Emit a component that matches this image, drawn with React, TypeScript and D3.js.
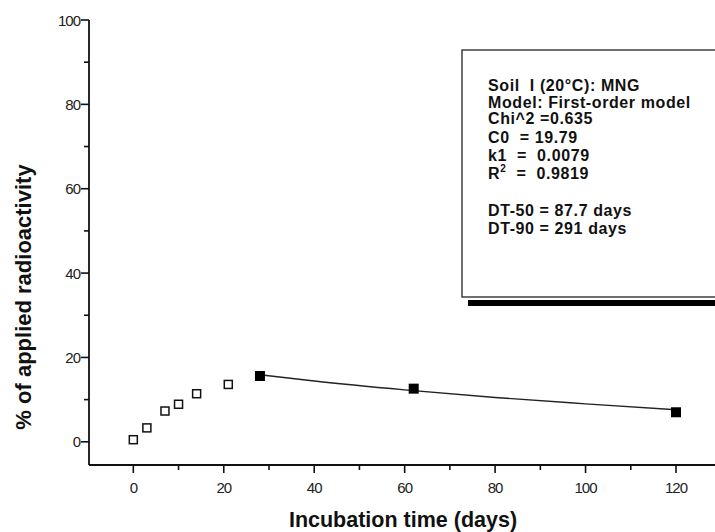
import React, { useEffect, useRef } from 'react';
import * as d3 from 'd3';

// measured points, open = not used in fit, filled = used in fit
const openDays = [0, 3, 7, 10, 14, 21];
const openPct = [0.5, 3.3, 7.3, 8.9, 11.4, 13.6];
const fitDays = [28, 62, 120];
const fitPct = [15.6, 12.6, 7.0];
// model curve
const curveDays = [28, 40, 60, 80, 100, 120];
const curvePct = [15.9, 14.4, 12.3, 10.5, 9.0, 7.6];

const xMajor = [0, 20, 40, 60, 80, 100, 120];
const xMinor = [10, 30, 50, 70, 90, 110, 130];
const yMajor = [0, 20, 40, 60, 80, 100];
const yMinor = [10, 30, 50, 70, 90];

const boxLines = [
  'Soil  I (20°C): MNG',
  'Model: First-order model',
  'Chi^2 =0.635',
  'C0  = 19.79',
  'k1  =  0.0079',
  'R2',
  '',
  'DT-50 = 87.7 days',
  'DT-90 = 291 days',
];

const W = 715;
const H = 532;
const font = '"Liberation Sans", Arial, Helvetica, sans-serif';

export default function App() {
  const ref = useRef<SVGSVGElement>(null);

  useEffect(() => {
    const svg = d3.select(ref.current);
    svg.selectAll('*').remove();

    const x = d3.scaleLinear().domain([-9.8, 120]).range([89, 676]);
    const y = d3.scaleLinear().domain([-5.5, 100]).range([465, 20]);
    const x0 = x(-9.8);
    const y0 = y(-5.5);

    const g = svg.append('g').attr('font-family', font);

    // axes lines
    g.append('line')
      .attr('x1', x0).attr('x2', W)
      .attr('y1', y0).attr('y2', y0)
      .attr('stroke', '#111').attr('stroke-width', 1.8);
    g.append('line')
      .attr('x1', x0).attr('x2', x0)
      .attr('y1', y0).attr('y2', y(100))
      .attr('stroke', '#111').attr('stroke-width', 1.8);

    // x ticks
    g.selectAll('xmaj').data(xMajor).enter().append('line')
      .attr('x1', d => x(d)).attr('x2', d => x(d))
      .attr('y1', y0).attr('y2', y0 + 8)
      .attr('stroke', '#111').attr('stroke-width', 1.6);
    g.selectAll('xmin').data(xMinor).enter().append('line')
      .attr('x1', d => x(d)).attr('x2', d => x(d))
      .attr('y1', y0).attr('y2', y0 + 5)
      .attr('stroke', '#111').attr('stroke-width', 1.6);
    g.selectAll('xlab').data(xMajor).enter().append('text')
      .attr('x', d => x(d)).attr('y', 493)
      .attr('text-anchor', 'middle')
      .attr('font-size', 15).attr('letter-spacing', -1)
      .attr('fill', '#222')
      .text(d => d);

    // y ticks
    g.selectAll('ymaj').data(yMajor).enter().append('line')
      .attr('x1', x0 - 8).attr('x2', x0)
      .attr('y1', d => y(d)).attr('y2', d => y(d))
      .attr('stroke', '#111').attr('stroke-width', 1.6);
    g.selectAll('ymin').data(yMinor).enter().append('line')
      .attr('x1', x0 - 5).attr('x2', x0)
      .attr('y1', d => y(d)).attr('y2', d => y(d))
      .attr('stroke', '#111').attr('stroke-width', 1.6);
    g.selectAll('ylab').data(yMajor).enter().append('text')
      .attr('x', 80).attr('y', d => y(d) + 5.5)
      .attr('text-anchor', 'end')
      .attr('font-size', 15).attr('letter-spacing', -1)
      .attr('fill', '#222')
      .text(d => d);

    // axis titles
    g.append('text')
      .attr('x', 403).attr('y', 527)
      .attr('text-anchor', 'middle')
      .attr('font-size', 21.5).attr('font-weight', 'bold')
      .attr('fill', '#111')
      .text('Incubation time (days)');
    g.append('text')
      .attr('transform', 'translate(31 297) rotate(-90)')
      .attr('text-anchor', 'middle')
      .attr('font-size', 22).attr('font-weight', 'bold')
      .attr('fill', '#111')
      .text('% of applied radioactivity');

    // fitted curve
    const line = d3.line<number>()
      .x(d => x(curveDays[d]))
      .y(d => y(curvePct[d]))
      .curve(d3.curveMonotoneX);
    g.append('path')
      .attr('d', line(d3.range(curveDays.length)))
      .attr('fill', 'none')
      .attr('stroke', '#222')
      .attr('stroke-width', 1.4);

    const s = 8;
    g.selectAll('open').data(openDays).enter().append('rect')
      .attr('x', (d) => x(d) - s / 2)
      .attr('y', (d, i) => y(openPct[i]) - s / 2)
      .attr('width', s).attr('height', s)
      .attr('fill', 'white')
      .attr('stroke', '#111').attr('stroke-width', 1.5);
    g.selectAll('filled').data(fitDays).enter().append('rect')
      .attr('x', (d) => x(d) - s / 2 - 1)
      .attr('y', (d, i) => y(fitPct[i]) - s / 2 - 1)
      .attr('width', s + 2).attr('height', s + 2)
      .attr('fill', '#000');

    // info box with shadow
    g.append('rect')
      .attr('x', 468).attr('y', 300)
      .attr('width', 260).attr('height', 6)
      .attr('fill', '#000');
    g.append('rect')
      .attr('x', 462).attr('y', 50)
      .attr('width', 270).attr('height', 247)
      .attr('fill', 'white')
      .attr('stroke', '#222').attr('stroke-width', 1.3);

    const baselines = [91, 108, 124, 143, 161, 179, 197, 216, 234];
    boxLines.forEach((t, i) => {
      if (!t) return;
      const txt = g.append('text')
        .attr('x', 488).attr('y', baselines[i])
        .attr('font-size', 16).attr('font-weight', 'bold')
        .attr('letter-spacing', 0.6)
        .attr('fill', '#111')
        .attr('xml:space', 'preserve')
        .style('white-space', 'pre');
      if (t === 'R2') {
        txt.append('tspan').text('R');
        txt.append('tspan').attr('dy', -7).attr('font-size', 10).text('2');
        txt.append('tspan').attr('dy', 7).text('  =  0.9819');
      } else {
        txt.text(t);
      }
    });
  }, []);

  return (
    <svg
      ref={ref}
      width={W}
      height={H}
      style={{ position: 'absolute', left: 0, top: 0, background: 'white' }}
    />
  );
}
